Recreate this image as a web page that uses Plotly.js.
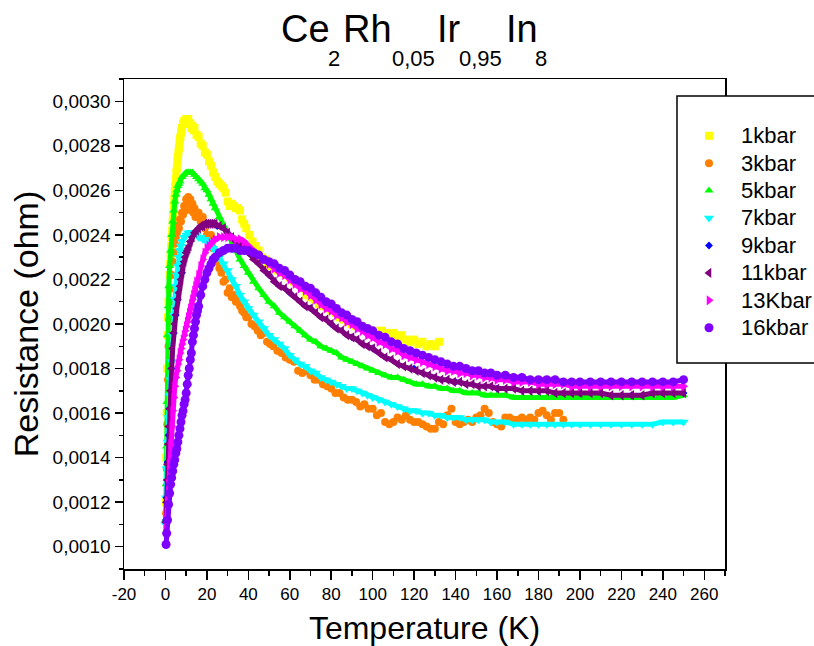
<!DOCTYPE html>
<html>
<head>
<meta charset="utf-8">
<script src="https://cdn.plot.ly/plotly-3.0.1.min.js"></script>
<style>html,body{margin:0;padding:0;background:#fff;}#chart{width:814px;height:646px;}</style>
</head>
<body>
<div id="chart"></div>
<script>
// ---- data (T in K, R in ohm) ----
const seriesNames = ['1kbar','3kbar','5kbar','7kbar','9kbar','11kbar','13Kbar','16kbar'];
const xTicks = [-20,0,20,40,60,80,100,120,140,160,180,200,220,240,260];
const yTicks = [0.0010,0.0012,0.0014,0.0016,0.0018,0.0020,0.0022,0.0024,0.0026,0.0028,0.0030];

const p1kbar = [[0.2,0.00120],[0.4,0.00140],[0.6,0.00160],[0.8,0.00180],[1.0,0.00195],[1.25,0.00203],[1.5,0.00210],[1.75,0.00216],[2.0,0.00222],[2.25,0.00227],[2.5,0.00231],[2.75,0.00235],[3.0,0.00239],[3.25,0.00242],[3.5,0.00246],[3.75,0.00249],[4.0,0.00253],[4.25,0.00256],[4.5,0.00259],[4.75,0.00262],[5.0,0.00265],[5.25,0.00268],[5.5,0.00270],[5.75,0.00273],[6.0,0.00275],[6.25,0.00277],[6.5,0.00279],[6.75,0.00281],[7.0,0.00283],[7.25,0.00284],[7.5,0.00286],[7.75,0.00287],[8.0,0.00288],[8.5,0.00290],[9.0,0.00291],[9.5,0.00290],[10,0.00292],[10.5,0.00291],[11,0.00292],[11.5,0.00290],[12,0.00290],[12.5,0.00288],[13,0.00289],[13.5,0.00287],[14,0.00288],[15,0.00285],[16,0.00284],[17,0.00281],[18,0.00280],[19,0.00277],[20,0.00276],[21,0.00273],[22,0.00271],[23,0.00268],[24,0.00266],[25,0.00264],[26,0.00263],[27,0.00262],[28,0.00261],[29,0.00259],[30,0.00255],[31,0.00253],[32,0.00254],[33,0.00253],[34,0.00252],[35,0.00252],[36,0.00251],[37,0.00247],[38,0.00245],[39,0.00243],[40.5,0.00240],[42,0.00237],[43.5,0.00235],[45,0.00233],[46.5,0.00230],[48,0.00229],[49.5,0.00227],[51,0.00226],[52.5,0.00225],[54,0.00224],[56,0.00223],[58,0.00222],[60,0.00221],[62,0.00219],[64,0.00218],[66,0.00216],[68,0.00213],[70,0.00212],[72,0.00211],[74,0.00209],[76,0.00208],[78,0.00207],[80,0.00206],[82,0.00205],[84,0.00203],[86,0.00202],[88,0.00201],[90,0.00200],[92,0.00199],[94,0.00199],[96,0.00198],[98,0.00197],[100,0.00197],[102,0.00196],[104,0.00197],[106,0.00196],[108,0.00195],[110,0.00196],[112,0.00194],[114,0.00195],[116,0.00193],[118,0.00192],[120,0.00193],[122,0.00191],[124,0.00192],[126,0.00190],[128,0.00191],[130,0.00190],[132,0.00192]];

const p3kbar = [[0.3,0.00115],[0.6,0.00135],[0.9,0.00155],[1.2,0.00175],[1.5,0.00190],[1.8,0.00202],[2.1,0.00210],[2.5,0.00216],[3.0,0.00222],[3.5,0.00228],[4.0,0.00232],[4.5,0.00236],[5.0,0.00239],[5.5,0.00241],[6.0,0.00244],[6.5,0.00243],[7.0,0.00247],[7.5,0.00246],[8.0,0.00250],[8.5,0.00249],[9.0,0.00253],[9.5,0.00251],[10,0.00256],[10.5,0.00254],[11,0.00257],[11.5,0.00253],[12,0.00256],[12.5,0.00251],[13,0.00254],[13.5,0.00250],[14,0.00252],[14.5,0.00248],[15,0.00250],[16,0.00250],[17,0.00246],[18,0.00248],[19,0.00243],[20,0.00240],[21,0.00237],[22,0.00240],[23,0.00234],[24,0.00230],[25,0.00228],[26,0.00225],[27,0.00223],[28,0.00219],[29,0.00220],[30,0.00214],[31,0.00216],[32,0.00212],[33,0.00213],[34,0.00210],[35,0.00211],[36,0.00208],[37,0.00206],[38,0.00205],[39,0.00203],[40,0.00203],[41.5,0.00200],[43,0.00199],[44.5,0.00197],[46,0.00195],[47.5,0.00196],[49,0.00192],[50.5,0.00191],[52,0.00190],[54,0.00188],[56,0.00187],[58,0.00185],[60,0.00184],[62,0.00183],[64,0.00179],[66,0.00178],[68,0.00179],[70,0.00177],[72,0.00175],[74,0.00175],[76,0.00173],[78,0.00172],[80,0.00171],[82,0.00169],[84,0.00169],[86,0.00167],[88,0.00166],[90,0.00166],[92,0.00165],[94,0.00163],[96,0.00164],[98,0.00162],[100,0.00162],[102,0.00159],[104,0.00160],[106,0.00156],[108,0.00155],[110,0.00156],[112,0.00158],[114,0.00157],[116,0.00159],[118,0.00157],[120,0.00156],[122,0.00156],[124,0.00155],[126,0.00154],[128,0.00153],[130,0.00153],[132,0.00156],[134,0.00155],[136,0.00159],[138,0.00162],[140,0.00156],[142,0.00155],[144,0.00156],[146,0.00157],[148,0.00156],[150,0.00158],[152,0.00159],[154,0.00162],[156,0.00160],[158,0.00156],[160,0.00155],[162,0.00154],[164,0.00158],[166,0.00158],[168,0.00157],[170,0.00157],[172,0.00158],[174,0.00157],[176,0.00158],[178,0.00157],[180,0.00160],[182,0.00161],[184,0.00159],[186,0.00157],[188,0.00160],[190,0.00160],[192,0.00157]];

const p5kbar = [[0.1,0.00112],[0.3,0.00128],[0.5,0.00145],[0.7,0.00165],[1.0,0.00195],[1.3,0.00208],[1.6,0.00217],[2.0,0.00226],[2.5,0.00233],[3.0,0.00240],[3.5,0.00246],[4.0,0.00251],[4.5,0.00255],[5.0,0.00258],[5.5,0.00260],[6.0,0.00262],[6.5,0.00263],[7.0,0.00264],[8,0.00266],[9,0.00267],[10,0.00268],[11,0.00268],[12,0.00268],[13,0.00268],[14,0.00267],[15,0.00266],[16,0.00265],[17,0.00264],[18,0.00263],[19,0.00261],[20,0.00260],[21,0.00258],[22,0.00256],[23,0.00254],[24,0.00252],[26,0.00248],[28,0.00244],[30,0.00240],[32,0.00236],[34,0.00233],[36,0.00229],[38,0.00226],[40,0.00223],[42.5,0.00219],[45,0.00216],[47.5,0.00213],[50,0.00210],[52.5,0.00208],[55,0.00205],[57.5,0.00203],[60,0.00201],[62.5,0.00199],[65,0.00197],[67.5,0.00195],[70,0.00193],[72.5,0.00192],[75,0.00190],[77.5,0.00189],[80,0.00188],[82.5,0.00187],[85,0.00185],[87.5,0.00184],[90,0.00183],[92.5,0.00182],[95,0.00181],[97.5,0.00180],[100,0.00179],[103,0.00178],[106,0.00177],[109,0.00176],[112,0.00176],[115,0.00175],[118,0.00174],[121,0.00173],[124,0.00173],[127,0.00172],[130,0.00172],[133,0.00171],[136,0.00171],[139,0.00170],[142,0.00170],[145,0.00169],[148,0.00169],[151,0.00169],[154,0.00168],[157,0.00168],[160,0.00168],[164,0.00168],[168,0.00167],[172,0.00167],[176,0.00167],[180,0.00167],[184,0.00167],[188,0.00167],[192,0.00167],[196,0.00167],[200,0.00167],[205,0.00167],[210,0.00167],[215,0.00167],[220,0.00167],[225,0.00167],[230,0.00167],[235,0.00167],[240,0.00167],[245,0.00167],[250,0.00168]];

const p7kbar = [[0.1,0.00110],[0.3,0.00122],[0.6,0.00135],[1.0,0.00147],[1.5,0.00158],[2.0,0.00168],[2.5,0.00175],[3.0,0.00183],[3.5,0.00195],[4.0,0.00204],[4.5,0.00211],[5.0,0.00217],[5.5,0.00222],[6.0,0.00226],[6.5,0.00230],[7.0,0.00233],[7.5,0.00235],[8,0.00237],[9,0.00239],[10,0.00240],[11,0.00241],[12,0.00241],[13,0.00241],[14,0.00240],[15,0.00240],[16,0.00239],[17,0.00239],[18,0.00238],[19,0.00238],[20,0.00237],[21,0.00236],[22,0.00235],[23,0.00234],[24,0.00233],[26,0.00230],[28,0.00227],[30,0.00224],[32,0.00220],[34,0.00217],[36,0.00213],[38,0.00210],[40,0.00207],[42.5,0.00204],[45,0.00201],[47.5,0.00198],[50,0.00195],[52.5,0.00193],[55,0.00191],[57.5,0.00189],[60,0.00186],[62.5,0.00184],[65,0.00182],[67.5,0.00181],[70,0.00179],[72.5,0.00178],[75,0.00176],[77.5,0.00175],[80,0.00174],[82.5,0.00173],[85,0.00172],[87.5,0.00171],[90,0.00171],[92.5,0.00170],[95,0.00169],[97.5,0.00168],[100,0.00167],[103,0.00166],[106,0.00165],[109,0.00164],[112,0.00163],[115,0.00162],[118,0.00161],[121,0.00161],[124,0.00160],[127,0.00160],[130,0.00159],[133,0.00159],[136,0.00158],[139,0.00158],[142,0.00158],[145,0.00157],[148,0.00157],[151,0.00157],[154,0.00157],[157,0.00156],[160,0.00156],[164,0.00156],[168,0.00155],[172,0.00155],[176,0.00155],[180,0.00155],[184,0.00155],[188,0.00155],[192,0.00155],[196,0.00155],[200,0.00155],[205,0.00155],[210,0.00155],[215,0.00155],[220,0.00155],[225,0.00155],[230,0.00155],[235,0.00155],[240,0.00156],[245,0.00156],[250,0.00156]];

const p9kbar = [[0.2,0.00112],[0.5,0.00122],[1,0.00138],[1.5,0.00150],[2,0.00162],[3,0.00180],[4,0.00196],[5,0.00204],[6,0.00211],[8,0.00223],[10,0.00232],[12,0.00237],[15,0.00242],[18,0.00244],[21,0.00245],[25,0.00244],[30,0.00241],[35,0.00236],[40,0.00232],[50,0.00222],[60,0.00214],[70,0.00207],[80,0.00200],[90,0.00194],[100,0.00189],[120,0.00180],[140,0.00174],[160,0.00171],[180,0.00170],[200,0.00169],[225,0.00168],[250,0.00169]];

const p11kbar = [[0.2,0.00111],[0.5,0.00120],[0.8,0.00130],[1.0,0.00137],[1.3,0.00146],[1.6,0.00154],[2.0,0.00162],[2.5,0.00170],[3.0,0.00180],[3.5,0.00189],[4.0,0.00196],[4.5,0.00200],[5.0,0.00204],[5.5,0.00207],[6.0,0.00211],[6.5,0.00214],[7.0,0.00217],[7.5,0.00220],[8.0,0.00223],[8.5,0.00226],[9.0,0.00228],[9.5,0.00230],[10,0.00232],[10.5,0.00233],[11,0.00234],[11.5,0.00235],[12,0.00237],[13,0.00239],[14,0.00241],[15,0.00242],[16,0.00243],[17,0.00244],[18,0.00244],[19,0.00245],[20,0.00245],[21,0.00245],[22,0.00245],[23,0.00245],[24,0.00245],[26,0.00244],[28,0.00243],[30,0.00241],[32,0.00239],[34,0.00237],[36,0.00235],[38,0.00234],[40,0.00232],[42.5,0.00229],[45,0.00227],[47.5,0.00224],[50,0.00222],[52.5,0.00219],[55,0.00217],[57.5,0.00216],[60,0.00214],[62.5,0.00212],[65,0.00210],[67.5,0.00208],[70,0.00207],[72.5,0.00205],[75,0.00203],[77.5,0.00202],[80,0.00200],[82.5,0.00198],[85,0.00197],[87.5,0.00195],[90,0.00194],[92.5,0.00193],[95,0.00191],[97.5,0.00190],[100,0.00189],[103,0.00187],[106,0.00185],[109,0.00184],[112,0.00182],[115,0.00181],[118,0.00180],[121,0.00179],[124,0.00178],[127,0.00177],[130,0.00176],[133,0.00175],[136,0.00175],[139,0.00174],[142,0.00174],[145,0.00173],[148,0.00173],[151,0.00172],[154,0.00172],[157,0.00172],[160,0.00171],[164,0.00171],[168,0.00171],[172,0.00170],[176,0.00170],[180,0.00170],[184,0.00170],[188,0.00169],[192,0.00169],[196,0.00169],[200,0.00169],[205,0.00169],[210,0.00169],[215,0.00168],[220,0.00168],[225,0.00168],[230,0.00168],[235,0.00169],[240,0.00169],[245,0.00169],[250,0.00169]];

const p13kbar = [[0.2,0.00107],[0.5,0.00112],[1.0,0.00120],[1.5,0.00128],[2.0,0.00137],[2.5,0.00146],[3.0,0.00154],[3.5,0.00161],[4.0,0.00167],[4.5,0.00172],[5.0,0.00176],[5.5,0.00179],[6.0,0.00182],[6.5,0.00184],[7.0,0.00187],[7.5,0.00189],[8.0,0.00191],[8.5,0.00193],[9.0,0.00195],[9.5,0.00197],[10,0.00199],[10.5,0.00201],[11,0.00203],[11.5,0.00205],[12,0.00207],[12.5,0.00209],[13,0.00211],[13.5,0.00213],[14,0.00215],[14.5,0.00217],[15,0.00219],[16,0.00222],[17,0.00226],[18,0.00229],[19,0.00232],[20,0.00234],[21,0.00235],[22,0.00236],[23,0.00237],[24,0.00238],[26,0.00239],[28,0.00239],[30,0.00239],[32,0.00239],[34,0.00238],[36,0.00238],[38,0.00237],[40,0.00235],[42.5,0.00233],[45,0.00231],[47.5,0.00229],[50,0.00227],[52.5,0.00225],[55,0.00223],[57.5,0.00222],[60,0.00220],[62.5,0.00218],[65,0.00216],[67.5,0.00215],[70,0.00213],[72.5,0.00211],[75,0.00209],[77.5,0.00207],[80,0.00206],[82.5,0.00204],[85,0.00203],[87.5,0.00201],[90,0.00200],[92.5,0.00198],[95,0.00197],[97.5,0.00195],[100,0.00194],[103,0.00192],[106,0.00191],[109,0.00189],[112,0.00188],[115,0.00186],[118,0.00185],[121,0.00184],[124,0.00183],[127,0.00182],[130,0.00181],[133,0.00180],[136,0.00179],[139,0.00179],[142,0.00178],[145,0.00178],[148,0.00177],[151,0.00177],[154,0.00176],[157,0.00176],[160,0.00175],[164,0.00175],[168,0.00174],[172,0.00174],[176,0.00174],[180,0.00173],[184,0.00173],[188,0.00173],[192,0.00173],[196,0.00172],[200,0.00172],[205,0.00172],[210,0.00172],[215,0.00172],[220,0.00172],[225,0.00172],[230,0.00172],[235,0.00172],[240,0.00172],[245,0.00172],[250,0.00172]];

const p16kbar = [[0.3,0.00101],[0.6,0.00106],[1.0,0.00112],[1.5,0.00119],[2.0,0.00124],[2.5,0.00128],[3.0,0.00131],[3.5,0.00134],[4.0,0.00137],[4.5,0.00139],[5.0,0.00142],[5.5,0.00144],[6.0,0.00147],[6.5,0.00150],[7.0,0.00153],[7.5,0.00156],[8.0,0.00159],[8.5,0.00161],[9.0,0.00164],[9.5,0.00166],[10,0.00169],[10.5,0.00173],[11,0.00177],[11.5,0.00180],[12,0.00184],[12.5,0.00187],[13,0.00192],[13.5,0.00195],[14,0.00198],[14.5,0.00201],[15,0.00204],[15.5,0.00206],[16,0.00208],[17,0.00213],[18,0.00217],[19,0.00220],[20,0.00223],[21,0.00225],[22,0.00227],[23,0.00229],[24,0.00230],[26,0.00232],[28,0.00233],[30,0.00234],[32,0.00234],[34,0.00234],[36,0.00233],[38,0.00233],[40,0.00233],[42.5,0.00232],[45,0.00231],[47.5,0.00229],[50,0.00228],[52.5,0.00227],[55,0.00225],[57.5,0.00224],[60,0.00222],[62.5,0.00220],[65,0.00219],[67.5,0.00217],[70,0.00216],[72.5,0.00214],[75,0.00212],[77.5,0.00210],[80,0.00209],[82.5,0.00207],[85,0.00205],[87.5,0.00204],[90,0.00202],[92.5,0.00201],[95,0.00199],[97.5,0.00198],[100,0.00197],[103,0.00195],[106,0.00194],[109,0.00192],[112,0.00191],[115,0.00189],[118,0.00188],[121,0.00187],[124,0.00186],[127,0.00185],[130,0.00184],[133,0.00183],[136,0.00182],[139,0.00181],[142,0.00181],[145,0.00180],[148,0.00179],[151,0.00179],[154,0.00178],[157,0.00178],[160,0.00177],[164,0.00177],[168,0.00176],[172,0.00176],[176,0.00175],[180,0.00175],[184,0.00175],[188,0.00175],[192,0.00174],[196,0.00174],[200,0.00174],[205,0.00174],[210,0.00174],[215,0.00174],[220,0.00174],[225,0.00174],[230,0.00174],[235,0.00174],[240,0.00174],[245,0.00174],[250,0.00175]];

const seriesData = [p1kbar,p3kbar,p5kbar,p7kbar,p9kbar,p11kbar,p13kbar,p16kbar];
const seriesColors = ['#FFFF00','#FF8000','#00FF00','#00FFFF','#0000FF','#800080','#FF00FF','#8000FF'];
const seriesSymbols = ['square','circle','triangle-up','triangle-down','diamond','triangle-left','triangle-right','circle'];
const markerSizes = [8,8,8,9,6,9,9,9];
const connectBand = [false,false,true,true,false,true,true,true];

const traces = [];
seriesData.forEach(function(pts, i){
  const xs = pts.map(p => p[0]);
  const ys = pts.map(p => p[1]);
  if (connectBand[i]) {
    traces.push({type:'scatter', mode:'lines', x:xs, y:ys, showlegend:false, legendgroup:'g'+i,
      line:{color:seriesColors[i], width:5}, hoverinfo:'skip'});
  }
  traces.push({type:'scatter', mode:'markers', x:xs, y:ys,
    name:'<span style="font-size:22px">' + seriesNames[i] + '</span>', legendgroup:'g'+i,
    marker:{color:seriesColors[i], symbol:seriesSymbols[i], size:markerSizes[i], line:{width:0}}});
});

// plot area in px: left 124, right 725, top 79, bottom 569
function px2x(px){ return (px-124)/601; }
function px2y(py){ return (569-py)/490; }

const titleParts = [
  {t:'Ce', x:279, y:29, s:38},
  {t:'2', x:326, y:59, s:22},
  {t:'Rh', x:341, y:29, s:38},
  {t:'0,05', x:390, y:59, s:22},
  {t:'Ir', x:435, y:29, s:38},
  {t:'0,95', x:457, y:59, s:22},
  {t:'In', x:504, y:29, s:38},
  {t:'8', x:533, y:59, s:22}
];
const annotations = titleParts.map(p => ({
  text:p.t, xref:'paper', yref:'paper', x:px2x(p.x), y:px2y(p.y), xanchor:'left', yanchor:'middle',
  showarrow:false, font:{size:p.s, color:'black'}
}));

const layout = {
  width:814, height:646,
  margin:{l:124, r:89, t:79, b:77, autoexpand:false},
  paper_bgcolor:'white', plot_bgcolor:'white',
  separators:',.',
  font:{family:'"Liberation Sans", Arial, sans-serif', color:'black'},
  showlegend:true,
  hovermode:false,
  legend:{x:px2x(677), xanchor:'left', y:px2y(117), yanchor:'top', bgcolor:'rgba(0,0,0,0)', borderwidth:0,
    font:{size:18.8, color:'black'}, itemwidth:54, tracegroupgap:0, itemsizing:'trace'},
  xaxis:{range:[-20,270], tickmode:'array', tickvals:xTicks, ticktext:xTicks.map(String),
    ticks:'outside', ticklen:9, tickwidth:1.5, tickcolor:'black',
    showline:true, linecolor:'black', linewidth:1.5, mirror:true, showgrid:false, zeroline:false,
    tickfont:{size:17, color:'black'},
    minor:{ticks:'outside', ticklen:5, tickwidth:1.5, tickcolor:'black', dtick:10, tick0:0, showgrid:false},
    title:{text:'Temperature (K)', font:{size:32, color:'black'}, standoff:13}},
  yaxis:{range:[0.0009,0.0031], tickmode:'array', tickvals:yTicks, tickformat:'.4f',
    ticks:'outside', ticklen:8, tickwidth:1.5, tickcolor:'black',
    showline:true, linecolor:'black', linewidth:1.5, mirror:true, showgrid:false, zeroline:false,
    tickfont:{size:19, color:'black'},
    minor:{ticks:'outside', ticklen:4, tickwidth:1.5, tickcolor:'black', dtick:0.0001, tick0:0.001, showgrid:false},
    title:{text:'Resistance (ohm)', font:{size:34, color:'black'}, standoff:3}},
  shapes:[{type:'rect', xref:'paper', yref:'paper', x0:px2x(677), x1:px2x(840), y0:px2y(363), y1:px2y(96),
    line:{color:'black', width:1.5}, fillcolor:'white', layer:'above'}],
  annotations:annotations
};

Plotly.newPlot('chart', traces, layout, {staticPlot:true, displayModeBar:false});
</script>
</body>
</html>
